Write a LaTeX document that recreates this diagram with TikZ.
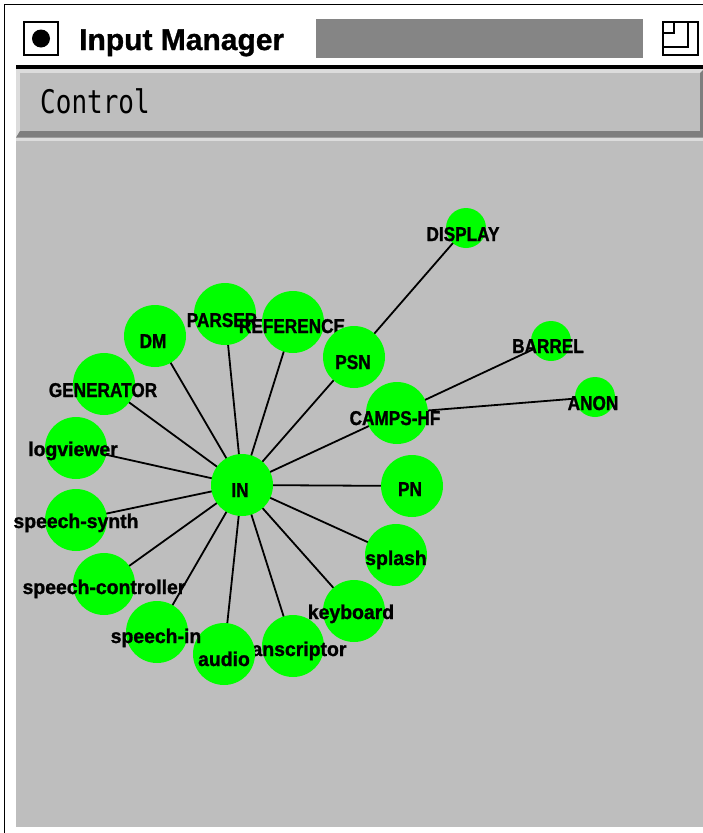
\documentclass[tikz,border=0pt]{standalone}
\usepackage{fontspec}
\newfontfamily\labU[FakeStretch=0.86,FakeBold=1.2]{Liberation Sans Bold}
\newfontfamily\labL[FakeStretch=0.97,FakeBold=1.2]{Liberation Sans Bold}
\newfontfamily\titlefont[FakeBold=1]{Liberation Sans Bold}
\newfontfamily\monofont{DejaVu Sans Mono}
\definecolor{canvasgray}{HTML}{BEBEBE}
\definecolor{bevellight}{HTML}{DCDCDC}
\definecolor{beveldark}{HTML}{7E7E7E}
\definecolor{nodegreen}{HTML}{00FF00}
\pgfdeclarelayer{back}
\pgfdeclarelayer{edges}
\pgfsetlayers{back,edges,main}
\tikzset{
  bub/.style={circle, fill=nodegreen, minimum size=62pt, inner sep=0pt},
  sbub/.style={circle, fill=nodegreen, minimum size=40pt, inner sep=0pt},
  labu/.style={anchor=base, inner sep=0pt, font=\labU\fontsize{20}{24}\selectfont},
  labl/.style={anchor=base, inner sep=0pt, font=\labL\fontsize{20}{24}\selectfont},
  edge/.style={draw=black, line width=1.8pt},
}
\begin{document}
\begin{tikzpicture}[x=1pt,y=-1pt]
\useasboundingbox (0,0) rectangle (703,833);
\begin{pgfonlayer}{back}
  \fill[white] (0,0) rectangle (703,833);
  % window frame
  \draw[black, line width=1.2pt] (4.5,833) -- (4.5,4.5) -- (703,4.5);
  % title bar
  \node[draw=black, line width=2pt, minimum width=34pt, minimum height=33pt, inner sep=0pt] (menuicon) at (41,38.5) {};
  \fill[black] (menuicon.center) circle (9pt);
  \node[anchor=base west, inner sep=0pt, font=\titlefont\fontsize{30}{34}\selectfont] (title) at (79,50) {Input Manager};
  \node[fill=black!48, minimum width=327pt, minimum height=39pt, inner sep=0pt] (stipple) at (479.5,38.5) {};
  \node[draw=black, line width=1.6pt, minimum width=35pt, minimum height=33pt, inner sep=0pt] (resizeicon) at (680.5,38.5) {};
  \draw[black, line width=1.4pt] (resizeicon.west |- 0,47) -- (688,47) -- (688,22);
  \draw[black, line width=1.4pt] (resizeicon.west |- 0,33) -- (674,33) -- (674,22);
  \fill[black] (16,64.5) rectangle (703,68.5);
  % control bar
  \fill[bevellight] (16,68.5) rectangle (703,141);
  \fill[beveldark] (16,137.5) -- (20,131) -- (700,131) -- (700,73) -- (703,70) -- (703,137.5) -- cycle;
  \fill[canvasgray] (20,73) rectangle (700,131);
  \node[anchor=base west, inner sep=0pt, font=\monofont\fontsize{26}{30}\selectfont, yscale=1.25] (control) at (40,113) {Control};
  % canvas
  \fill[canvasgray] (16,141) rectangle (703,827);
\end{pgfonlayer}

% nodes (drawing order matters for overlaps)
\node[sbub] (DISPLAY) at (466,228) {};
\node[labu] (lDISPLAY) at (463,241) {DISPLAY};
\node[sbub] (BARREL) at (551,341) {};
\node[labu] (lBARREL) at (548,353) {BARREL};
\node[sbub] (ANON) at (595,397) {};
\node[labu] (lANON) at (593,410) {ANON};
\node[bub] (DM) at (155,336) {};
\node[labu] (lDM) at (153,348) {DM};
\node[bub] (PARSER) at (225,314) {};
\node[labu] (lPARSER) at (222,327) {PARSER};
\node[bub] (REFERENCE) at (293,322) {};
\node[labu] (lREFERENCE) at (292,333) {REFERENCE};
\node[bub] (PSN) at (354,357) {};
\node[labu] (lPSN) at (353,369) {PSN};
\node[bub] (CAMPS) at (397,413) {};
\node[labu] (lCAMPS) at (395,425) {CAMPS-HF};
\node[bub] (GENERATOR) at (104,384) {};
\node[labu] (lGENERATOR) at (103,397) {GENERATOR};
\node[bub] (logviewer) at (76,448) {};
\node[labl] (llogviewer) at (73,456) {logviewer};
\node[bub] (IN) at (242,485) {};
\node[labu] (lIN) at (240,497) {IN};
\node[bub] (PN) at (412,486) {};
\node[labu] (lPN) at (410,496) {PN};
\node[bub] (synth) at (76,520) {};
\node[labl] (lsynth) at (76,528) {speech-synth};
\node[bub] (splash) at (396,555) {};
\node[labl] (lsplash) at (396,565) {splash};
\node[bub] (controller) at (104,584) {};
\node[labl] (lcontroller) at (104,594) {speech-controller};
\node[bub] (keyboard) at (354,611) {};
\node[labl] (lkeyboard) at (351,619) {keyboard};
\node[bub] (transcriptor) at (293,646) {};
\node[labl] (ltranscriptor) at (292,656) {transcriptor};
\node[bub] (audio) at (224,654) {};
\node[labl] (laudio) at (224,666) {audio};
\node[bub] (speechin) at (157,632) {};
\node[labl] (lspeechin) at (156,643) {speech-in};

\begin{pgfonlayer}{edges}
  \foreach \t in {DM,PARSER,REFERENCE,PSN,CAMPS,GENERATOR,logviewer,synth,controller,speechin,audio,transcriptor,keyboard,splash,PN}
    \draw[edge] (IN.center) -- (\t.center);
  \draw[edge] (PSN.center) -- (DISPLAY.center);
  \draw[edge] (CAMPS.center) -- (BARREL.center);
  \draw[edge] (CAMPS.center) -- (ANON.center);
\end{pgfonlayer}
\end{tikzpicture}
\end{document}
